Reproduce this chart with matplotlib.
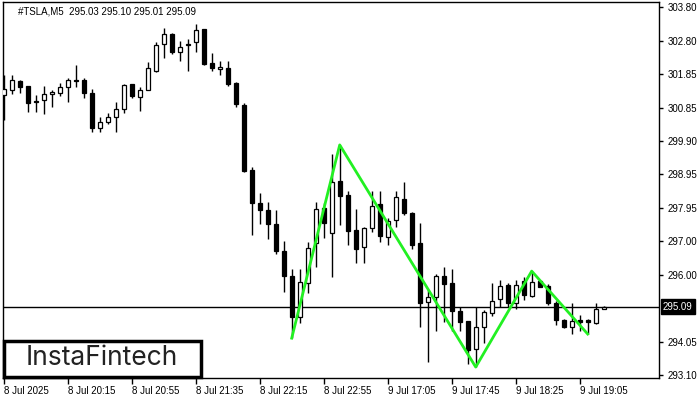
import matplotlib
matplotlib.use("Agg")
import matplotlib.pyplot as plt
from matplotlib.patches import Rectangle
from matplotlib.transforms import blended_transform_factory

plt.rcParams['font.family'] = ['Liberation Sans', 'DejaVu Sans']

# 5-minute candles, #TSLA
opens = [301.24, 301.39, 301.65, 301.50, 301.07, 301.10, 301.27, 301.30, 301.47, 301.68,
         301.68, 301.30, 300.28, 300.46, 300.60, 300.83, 301.56, 301.18, 301.39, 301.94,
         302.72, 303.01, 302.49, 302.72, 302.78, 303.16, 302.17, 302.00, 302.03, 301.59,
         300.95, 299.06, 298.10, 297.90, 297.49, 296.70, 295.98, 294.79, 295.77, 296.94,
         297.96, 297.23, 298.74, 298.33, 297.32, 296.82, 297.37, 298.07, 297.11, 297.61,
         298.22, 297.81, 296.94, 295.22, 295.37, 295.98, 295.77, 294.96, 294.67, 293.86,
         294.50, 294.90, 295.31, 295.72, 295.19, 295.83, 295.40, 295.83, 295.69, 295.19,
         294.70, 294.50, 294.70, 294.70, 294.61, 295.03]
highs = [301.82, 301.82, 301.68, 301.50, 301.24, 301.50, 301.39, 301.59, 301.74, 302.11,
         301.74, 301.42, 300.60, 300.72, 301.04, 301.56, 301.56, 301.47, 302.20, 302.78,
         303.19, 303.04, 302.81, 302.87, 303.31, 303.16, 302.46, 302.23, 302.23, 301.62,
         301.01, 299.15, 298.39, 298.13, 297.90, 297.00, 296.18, 296.18, 296.97, 298.13,
         298.10, 299.53, 299.79, 298.45, 297.93, 297.40, 298.45, 298.45, 297.66, 298.45,
         298.71, 297.84, 297.52, 295.57, 296.04, 296.24, 296.18, 295.08, 294.67, 295.08,
         294.99, 295.77, 295.86, 295.77, 295.86, 295.95, 296.12, 295.86, 295.75, 295.25,
         294.73, 295.19, 294.85, 294.73, 295.19, 295.10]
lows = [300.51, 301.27, 301.30, 300.75, 300.75, 300.69, 300.89, 301.21, 301.04, 301.47,
        301.15, 300.17, 300.17, 300.40, 300.17, 300.72, 301.15, 300.78, 301.39, 301.91,
        302.32, 302.43, 302.23, 301.94, 302.49, 302.11, 301.94, 301.82, 301.50, 300.89,
        299.00, 297.17, 297.49, 297.05, 296.62, 295.51, 294.17, 294.61, 295.48, 296.24,
        297.08, 295.95, 297.46, 296.88, 296.36, 296.36, 297.26, 296.97, 296.88, 297.40,
        297.75, 296.76, 294.50, 293.48, 294.38, 294.64, 294.38, 294.38, 293.42, 293.33,
        294.03, 294.81, 295.08, 295.08, 295.02, 295.28, 295.37, 295.66, 295.14, 294.55,
        294.47, 294.29, 294.38, 294.29, 294.58, 295.01]
closes = [301.42, 301.68, 301.47, 301.01, 301.04, 301.27, 301.33, 301.47, 301.68, 301.65,
          301.30, 300.28, 300.46, 300.60, 300.83, 301.53, 301.21, 301.39, 302.03, 302.70,
          303.01, 302.49, 302.64, 302.70, 303.13, 302.14, 302.03, 302.06, 301.56, 300.98,
          299.03, 298.10, 297.90, 297.49, 296.70, 295.98, 294.79, 295.80, 296.79, 297.93,
          297.52, 298.71, 298.30, 297.29, 296.76, 297.37, 298.01, 297.14, 297.58, 298.28,
          297.81, 296.88, 295.19, 295.37, 295.98, 295.75, 294.96, 294.64, 293.83, 294.50,
          294.93, 295.25, 295.69, 295.19, 295.72, 295.43, 295.80, 295.66, 295.19, 294.70,
          294.50, 294.67, 294.64, 294.64, 295.02, 295.09]

time_labels = ['8 Jul 2025', '8 Jul 20:15', '8 Jul 20:55', '8 Jul 21:35', '8 Jul 22:15',
               '8 Jul 22:55', '9 Jul 17:05', '9 Jul 17:45', '9 Jul 18:25', '9 Jul 19:05']
price_ticks = [303.80, 302.80, 301.85, 300.85, 299.90, 298.95, 297.95, 297.00, 296.00,
               294.05, 293.10]

# pattern points (bar index, price)
pattern_idx = [36, 42, 59, 66, 73]
pattern_px = [294.17, 299.79, 293.33, 296.12, 294.29]

bid = 295.09

fig = plt.figure(figsize=(7, 4), dpi=100)
ax = fig.add_axes([2.5 / 700, 22 / 400, 656.5 / 700, 376 / 400])

# bid line
ax.axhline(bid, color='black', lw=1, zorder=1)

# candles
for i in range(len(opens)):
    o, h, l, c = opens[i], highs[i], lows[i], closes[i]
    ax.vlines(i, l, h, color='black', lw=1, zorder=2)
    body = max(abs(c - o), 0.025)
    fc = 'white' if c >= o else 'black'
    ax.bar(i, body, bottom=min(o, c), width=0.55, color=fc,
           edgecolor='black', lw=0.9, zorder=3)

# pattern
ax.plot(pattern_idx, pattern_px, color='#22f022', lw=2, zorder=4)

ax.set_xlim(-0.15, 81.91)
ax.set_ylim(293.012, 303.945)

ax.set_xticks(range(0, 8 * len(time_labels), 8))
ax.set_xticklabels(time_labels, ha='left', fontsize=7)
ax.tick_params(axis='x', direction='out', length=4, width=1, pad=2)

ax.yaxis.tick_right()
ax.set_yticks(price_ticks)
ax.set_yticklabels([f'{p:.2f}' for p in price_ticks], fontsize=7)
ax.tick_params(axis='y', direction='out', length=3, width=1, pad=3)

for s in ax.spines.values():
    s.set_color('black')
    s.set_linewidth(1)

# bid label on price scale
tr = blended_transform_factory(ax.transAxes, ax.transData)
ax.text(1.006, bid, f'{bid:.2f}', transform=tr, fontsize=7, color='white',
        va='center', ha='left', zorder=5, clip_on=False,
        bbox=dict(boxstyle='square,pad=0.25', fc='black', ec='black'))

# header
ax.text(15.5 / 656.5, 1 - 10 / 376, '#TSLA,M5  295.03 295.10 295.01 295.09',
        transform=ax.transAxes, fontsize=7, color='black', va='center', ha='left')

# logo
fig.add_artist(Rectangle((3.5 / 700, 23 / 400), 197 / 700, 36 / 400,
                         transform=fig.transFigure, facecolor='white',
                         edgecolor='black', lw=2.5, zorder=10))
fig.text(102 / 700, 42 / 400, 'InstaFintech', fontsize=19, color='#222222',
         family=['Inter', 'DejaVu Sans'], ha='center', va='center', zorder=11)

fig.savefig('out.png', dpi=100)
